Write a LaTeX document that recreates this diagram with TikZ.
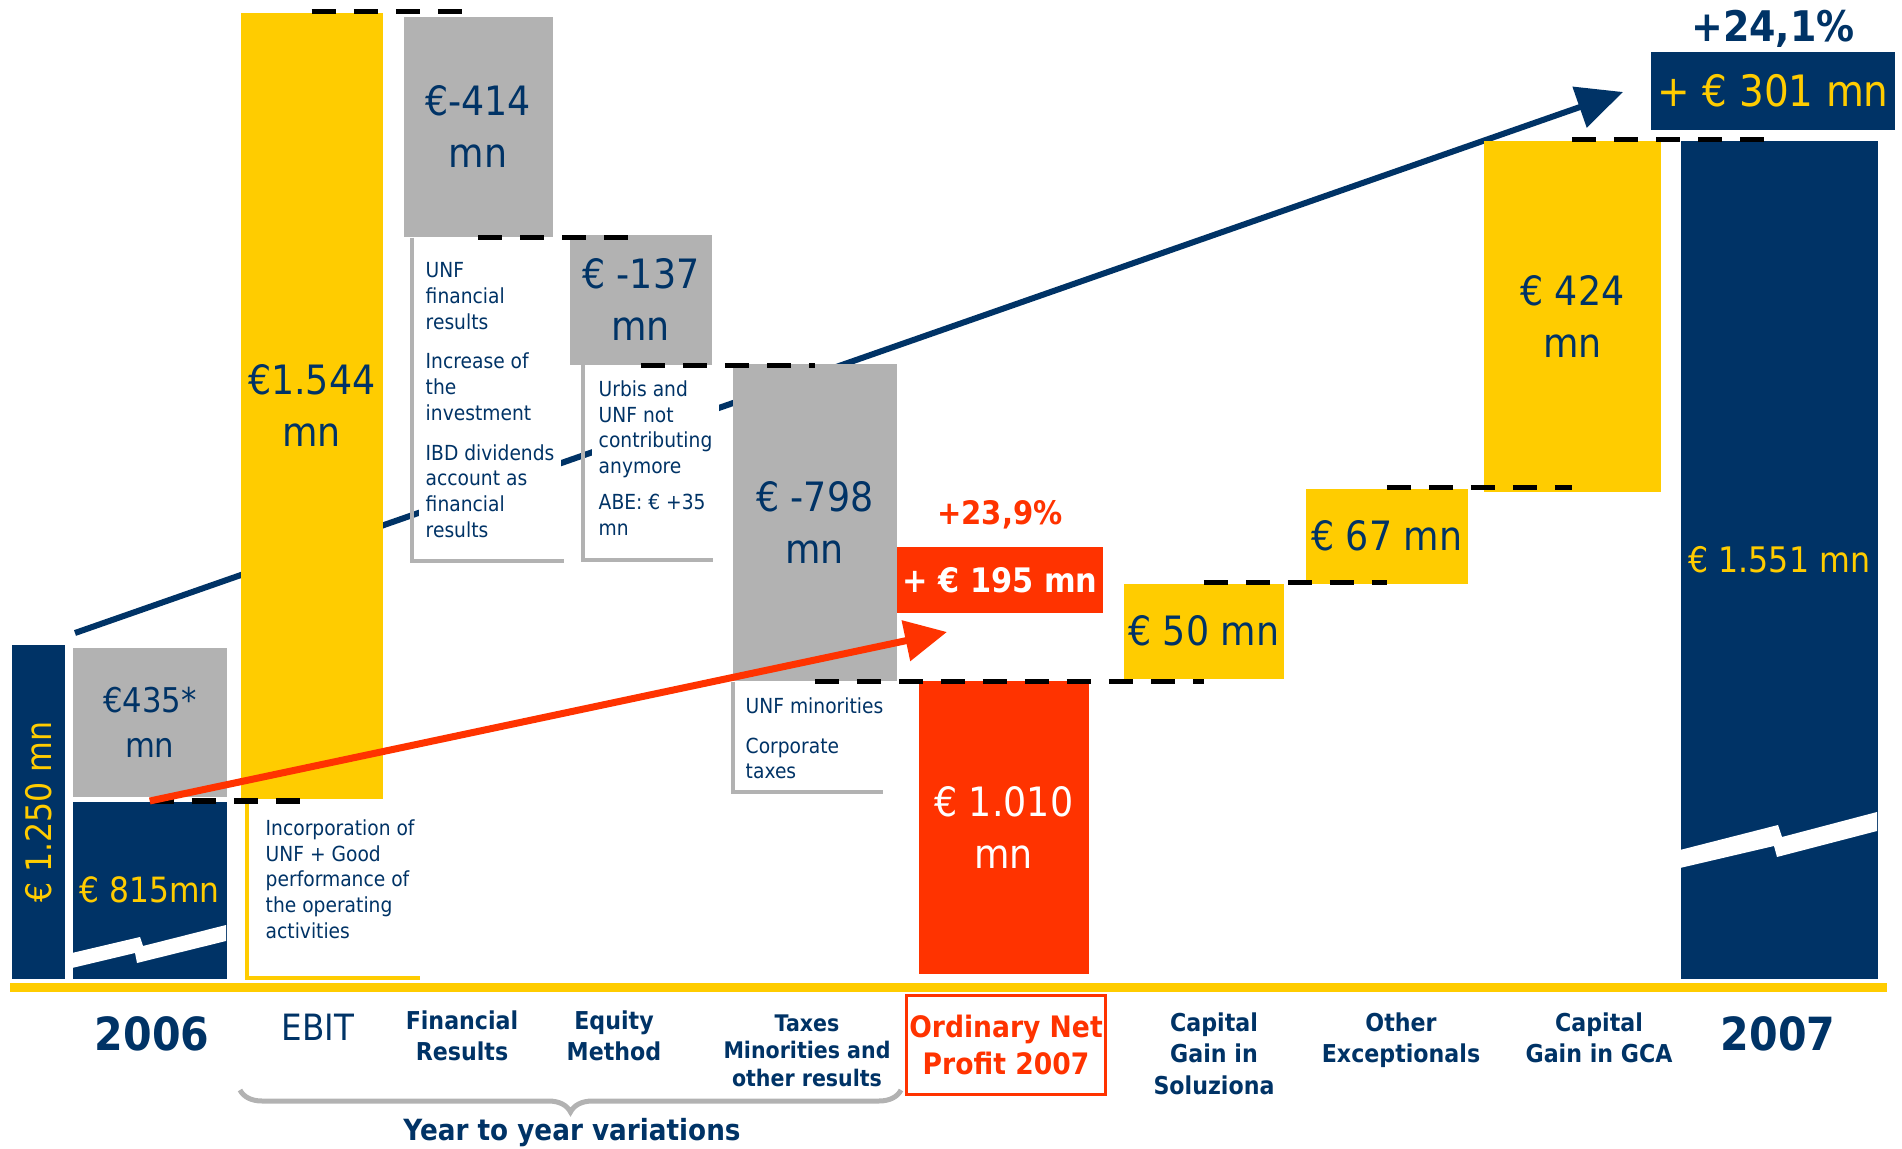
\documentclass[tikz,border=0pt]{standalone}
\usepackage{fontspec}
\setmainfont{DejaVu Sans}[FakeStretch=0.9]
\usepackage{xcolor}
\usepackage{tikz}
\definecolor{navyblue}{RGB}{0,51,102}
\definecolor{sunyellow}{RGB}{255,204,0}
\definecolor{boxgrey}{RGB}{178,178,178}
\definecolor{flamered}{RGB}{255,51,0}
\usetikzlibrary{arrows.meta, decorations.pathreplacing, positioning}

\begin{document}
\begin{tikzpicture}[x=0.01cm, y=-0.01cm,
	bar/.style={rectangle, anchor=north west, inner sep=0pt, align=center, text=navyblue, font=\fontsize{11.5}{14.8}\selectfont},
	note/.style={anchor=north west, fill=white, align=left, inner sep=2pt, text=navyblue, font=\fontsize{5.9}{7.3}\selectfont},
	leader/.style={line width=0.04cm},
	dashline/.style={line width=0.05cm, dash pattern=on 0.24cm off 0.18cm},
	cat/.style={anchor=north, align=center, text=navyblue, font=\fontsize{7}{9}\selectfont\bfseries},
	yearbrace/.style={draw=boxgrey, line width=0.05cm, decorate, decoration={brace, mirror, amplitude=0.22cm}}]

	\useasboundingbox (0,0) rectangle (1902,1149);

	\coordinate (bluestart) at (75,633);
	\coordinate (bluetip) at (1623,92);
	\coordinate (redtip) at (947,632);

	\draw[-{Triangle[length=0.46cm, width=0.42cm]}, navyblue, line width=0.06cm] (bluestart) -- (bluetip);

	\node[fill=navyblue, rotate=90, minimum width=3.34cm, minimum height=0.53cm, inner sep=0pt, text=sunyellow, font=\fontsize{10}{12}\selectfont] (tot06) at (38.5,812) {€ 1.250 mn};

	\node[bar, fill=boxgrey, minimum width=1.54cm, minimum height=1.49cm, font=\fontsize{9.7}{12.8}\selectfont] (n435) at (72,647) {€435*\\mn};

	\node[bar, fill=navyblue, minimum width=1.54cm, minimum height=1.77cm, text=sunyellow, font=\fontsize{9.9}{12}\selectfont] (n815) at (72,801) {€ 815mn};

	\node[bar, fill=sunyellow, minimum width=1.42cm, minimum height=7.86cm] (ebit) at (240,12) {€1.544\\mn};

	\node[bar, fill=boxgrey, minimum width=1.49cm, minimum height=2.20cm] (fin) at (403,16) {€-414\\mn};

	\node[bar, fill=boxgrey, minimum width=1.42cm, minimum height=1.30cm] (eq) at (569,234) {€ -137\\mn};

	\node[bar, fill=boxgrey, minimum width=1.64cm, minimum height=3.17cm] (tax) at (732,363) {€ -798\\mn};

	\node[bar, fill=flamered, minimum width=1.70cm, minimum height=2.93cm, text=white] (ord) at (918,680) {€ 1.010\\mn};

	\node[bar, fill=sunyellow, minimum width=1.60cm, minimum height=0.95cm] (sol) at (1123,583) {€ 50 mn};

	\node[bar, fill=sunyellow, minimum width=1.62cm, minimum height=0.95cm] (other) at (1305,488) {€ 67 mn};

	\node[bar, fill=sunyellow, minimum width=1.77cm, minimum height=3.51cm] (gca) at (1483,140) {€ 424\\mn};

	\node[bar, fill=navyblue, minimum width=1.97cm, minimum height=8.38cm, text=sunyellow, font=\fontsize{10}{12}\selectfont] (tot07) at (1680,140) {€ 1.551 mn};

	\fill[white] (72,953) -- (140,937) -- (143,946) -- (226,925) -- (226,941) -- (137,963) -- (135,953) -- (72,968) -- cycle;

	\fill[white] (1680,850) -- (1778,825) -- (1782,837) -- (1877,812) -- (1877,831) -- (1777,857) -- (1774,846) -- (1680,868) -- cycle;

	\fill[sunyellow] (10,983) rectangle (1887,992);

	\node[note] (ebitnote) at (258,812) {Incorporation of\\UNF + Good\\performance of\\the operating\\activities};

	\node[note] (finnote) at (418,255) {UNF\\financial\\results\\[4pt]Increase of\\the\\investment\\[4pt]IBD dividends\\account as\\financial\\results};

	\node[note] (eqnote) at (591,373) {Urbis and\\UNF not\\contributing\\anymore\\[3pt]ABE: € +35\\mn};

	\node[note] (taxnote) at (738,690) {UNF minorities\\[4pt]Corporate\\taxes};

	\draw[leader, sunyellow] (ebit.south west) ++(7,0) -- ++(0,178) -- ++(173,0);

	\draw[leader, boxgrey] (fin.south west) ++(9,0) -- ++(0,323) -- ++(152,0);

	\draw[leader, boxgrey] (eq.south west) ++(14,0) -- ++(0,195) -- ++(130,0);

	\draw[leader, boxgrey] (tax.south west) ++(1,0) -- ++(0,110) -- ++(150,0);

	\draw[dashline] (n815.north) -- (n815.north -| ebit.south);

	\draw[dashline] (ebit.north) -- (ebit.north -| fin.north);

	\draw[dashline] (fin.south) -- (fin.south -| eq.north);

	\draw[dashline] (eq.south) -- (eq.south -| tax.north);

	\draw[dashline] (tax.south) -- (tax.south -| sol.south);

	\draw[dashline] (sol.north) -- (sol.north -| other.south);

	\draw[dashline] (other.north) -- (other.north -| gca.south);

	\draw[dashline] (gca.north) -- (gca.north -| tot07.north);

	\node[fill=flamered, minimum width=2.06cm, minimum height=0.65cm, inner sep=0pt, text=white, font=\fontsize{9.6}{12}\selectfont\bfseries] (ordgain) at (1000,580) {+ € 195 mn};

	\node[above=0.05cm of ordgain, text=flamered, font=\fontsize{9.2}{11}\selectfont\bfseries] (ordpct) {+23,9\%};

	\node[fill=navyblue, minimum width=2.44cm, minimum height=0.77cm, inner sep=0pt, text=sunyellow, font=\fontsize{12.3}{14}\selectfont] (gain) at (1773,91) {+ € 301 mn};

	\node[above=-0.08cm of gain, text=navyblue, font=\fontsize{12}{14}\selectfont\bfseries] (pct) {+24,1\%};

	\draw[-{Triangle[length=0.42cm, width=0.40cm]}, flamered, line width=0.07cm] (n815.north) -- (redtip);

	\node[cat, font=\fontsize{13}{15}\selectfont\bfseries] (c2006) at (152,1004) {2006};

	\node[cat, font=\fontsize{10.3}{12}\selectfont] (cebit) at (318,1002) {EBIT};

	\node[cat] (cfin) at (462,998) {Financial\\Results};

	\node[cat] (ceq) at (614,998) {Equity\\Method};

	\node[cat, font=\fontsize{6.5}{7.9}\selectfont\bfseries] (ctax) at (807,1002) {Taxes\\Minorities and\\other results};

	\node[draw=flamered, line width=0.03cm, minimum width=1.99cm, minimum height=0.98cm, inner sep=0pt, align=center, text=flamered, font=\fontsize{8.4}{10.7}\selectfont\bfseries] (cord) at (1006,1045) {Ordinary Net\\Profit 2007};

	\node[cat] (csol) at (1214,1000) {Capital\\Gain in\\Soluziona};

	\node[cat] (cother) at (1401,1000) {Other\\Exceptionals};

	\node[cat] (cgca) at (1599,1000) {Capital\\Gain in GCA};

	\node[cat, font=\fontsize{13}{15}\selectfont\bfseries] (c2007) at (1778,1004) {2007};

	\draw[yearbrace] (240,1090) -- (901,1090);

	\node[text=navyblue, font=\fontsize{8.3}{10}\selectfont\bfseries] (years) at (572,1133) {Year to year variations};
\end{tikzpicture}
\end{document}
